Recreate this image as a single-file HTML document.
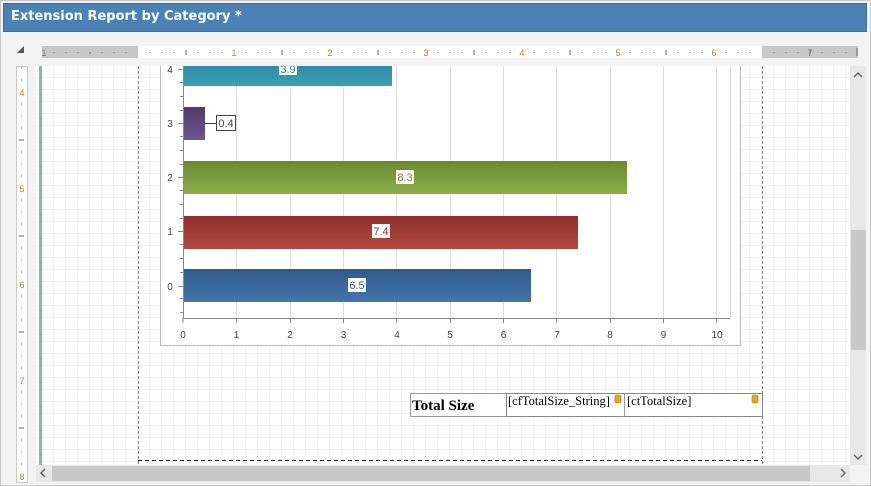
<!DOCTYPE html>
<html><head><style>
body{margin:0;width:871px;height:486px;background:#f0f0f0;position:relative;overflow:hidden;font-family:"Liberation Sans",sans-serif}
.a{position:absolute}
</style></head><body>
<div class="a" style="left:0;top:0;width:869px;height:484px;border:1px solid #c8c8c8;background:#f3f3f3"></div>
<div class="a" style="left:3px;top:3px;width:862px;height:27px;background:#4a82b6;border:1px solid #3a6fa0"></div>
<div class="a" style="left:11px;top:9px;color:#fff;font-weight:bold;font-size:13px;font-family:'DejaVu Sans',sans-serif">Extension Report by Category *</div>
<div class="a" style="left:17px;top:46px;width:0;height:0;border-left:7px solid transparent;border-bottom:7px solid #555"></div>
<svg class="a" style="left:0;top:0" width="871" height="486">
<defs>
<pattern id="g" width="12" height="12" patternUnits="userSpaceOnUse" x="42" y="66"><path d="M12 0V12H0" fill="none" stroke="#e6e6e6" stroke-width="1"/></pattern>
<linearGradient id="b0" x1="0" y1="0" x2="0" y2="1"><stop offset="0" stop-color="#2f5a8a"/><stop offset="1" stop-color="#4575ad"/></linearGradient>
<linearGradient id="b1" x1="0" y1="0" x2="0" y2="1"><stop offset="0" stop-color="#8c302c"/><stop offset="1" stop-color="#b44a42"/></linearGradient>
<linearGradient id="b2" x1="0" y1="0" x2="0" y2="1"><stop offset="0" stop-color="#6a8a2e"/><stop offset="1" stop-color="#8cae4a"/></linearGradient>
<linearGradient id="b3" x1="0" y1="0" x2="0" y2="1"><stop offset="0" stop-color="#4e3a6a"/><stop offset="1" stop-color="#6e5690"/></linearGradient>
<linearGradient id="b4" x1="0" y1="0" x2="0" y2="1"><stop offset="0" stop-color="#2a8098"/><stop offset="1" stop-color="#3aa0b8"/></linearGradient>
<clipPath id="c"><rect x="36" y="66" width="814" height="399"/></clipPath>
</defs>
<!-- horizontal ruler -->
<rect x="42" y="46" width="816" height="12" fill="#fff"/>
<rect x="42" y="46" width="96" height="12" fill="#c8c8c8"/>
<rect x="762" y="46" width="96" height="12" fill="#c8c8c8"/>
<g stroke="#666" stroke-width="1">
<path d="M54 52v1M66 52v1M78 52v1M90 52v2M102 52v1M114 52v1M126 52v1M150 52v1M162 52v1M174 52v1M186 50v5M198 52v1M210 52v1M222 52v1M246 52v1M258 52v1M270 52v1M282 50v5M294 52v1M306 52v1M318 52v1M342 52v1M354 52v1M366 52v1M378 50v5M390 52v1M402 52v1M414 52v1M438 52v1M450 52v1M462 52v1M474 50v5M486 52v1M498 52v1M510 52v1M534 52v1M546 52v1M558 52v1M570 50v5M582 52v1M594 52v1M606 52v1M630 52v1M642 52v1M654 52v1M666 50v5M678 52v1M690 52v1M702 52v1M726 52v1M738 52v1M750 52v1M774 52v1M786 52v1M798 52v1M810 50v5M822 52v1M834 52v1M846 52v1M857 48v8"/>
</g>
<g font-size="9" fill="#777" text-anchor="middle" font-family="Liberation Sans">
<text x="44" y="56">1</text><text x="234" y="56" fill="#c08030">1</text><text x="330" y="56" fill="#c08030">2</text><text x="426" y="56" fill="#c08030">3</text><text x="522" y="56" fill="#c08030">4</text><text x="618" y="56" fill="#c08030">5</text><text x="714" y="56" fill="#c08030">6</text><text x="810" y="56">7</text>
</g>
<!-- vertical ruler -->
<rect x="16.5" y="66.5" width="11" height="416" fill="#fff" stroke="#c8c8c8"/>
<g stroke="#666"><path d="M21 68h1M21 80h1M21 104h1M21 116h1M21 128h1M19 140h5M21 152h1M21 164h1M21 176h1M21 200h1M21 212h1M21 224h1M19 236h5M21 248h1M21 260h1M21 272h1M21 296h1M21 308h1M21 320h1M19 332h5M21 344h1M21 356h1M21 368h1M21 392h1M21 404h1M21 416h1M19 428h5M21 440h1M21 452h1M21 464h1"/></g>
<g font-size="9" fill="#c08030" text-anchor="middle"><text x="22" y="96">4</text><text x="22" y="192">5</text><text x="22" y="288">6</text><text x="22" y="384">7</text><text x="22" y="480">8</text></g>
<!-- canvas -->
<rect x="36" y="66" width="814" height="399" fill="#fff"/>
<rect x="36" y="66" width="814" height="399" fill="url(#g)"/>
<rect x="39" y="66" width="3" height="399" fill="#94aed0"/>
<path d="M138.5 66V465M762.5 66V465" stroke="#888" stroke-dasharray="3,2"/>
<path d="M138 460.5H762" stroke="#222" stroke-dasharray="4,3"/>
<g clip-path="url(#c)">
<rect x="160.5" y="55" width="580" height="290.5" fill="#fff" stroke="#bbb"/>
<g stroke="#ddd"><path d="M236.5 66V318M290.5 66V318M343.5 66V318M396.5 66V318M450.5 66V318M503.5 66V318M556.5 66V318M610.5 66V318M663.5 66V318M716.5 66V318M730.5 66V318"/></g>
<path d="M183.5 60V318.5H730" stroke="#888" fill="none"/>
<g stroke="#888"><path d="M183 318v5M236.5 318v5M290.5 318v5M343.5 318v5M396.5 318v5M450.5 318v5M503.5 318v5M556.5 318v5M610.5 318v5M663.5 318v5M716.5 318v5"/>
<path d="M178 69.5h5M178 123.5h5M178 177.5h5M178 231.5h5M178 286.5h5M180 96.5h3M180 150.5h3M180 204.5h3M180 258.5h3M180 312.5h3M180 82.5h3M180 110.5h3M180 136.5h3M180 164.5h3M180 190.5h3M180 218.5h3M180 244.5h3M180 272.5h3M180 298.5h3"/></g>
<rect x="184" y="55" width="208" height="31" fill="url(#b4)"/>
<rect x="184" y="107" width="21" height="33" fill="url(#b3)"/>
<rect x="184" y="161" width="443" height="33" fill="url(#b2)"/>
<rect x="184" y="216" width="394" height="33" fill="url(#b1)"/>
<rect x="184" y="269" width="347" height="33" fill="url(#b0)"/>
<g font-size="11" text-anchor="middle">
<rect x="279" y="62" width="18" height="13" fill="#fff"/><text x="288" y="73" fill="#2a8098">3.9</text>
<path d="M205 123.5h11" stroke="#4e3a6a"/><rect x="216.5" y="115.5" width="19" height="15" fill="#fff" stroke="#4e3a6a"/><text x="226" y="127" fill="#4e3a6a">0.4</text>
<rect x="396" y="170" width="18" height="14" fill="#fff"/><text x="405" y="181" fill="#6a8a2e">8.3</text>
<rect x="372" y="224" width="18" height="14" fill="#fff"/><text x="381" y="235" fill="#8c302c">7.4</text>
<rect x="348" y="278" width="18" height="14" fill="#fff"/><text x="357" y="289" fill="#2f5a8a">6.5</text>
</g>
<g font-size="10" fill="#444" text-anchor="middle">
<text x="170" y="73">4</text><text x="170" y="127">3</text><text x="170" y="181">2</text><text x="170" y="235">1</text><text x="170" y="290">0</text>
<text x="183" y="338">0</text><text x="236.5" y="338">1</text><text x="290" y="338">2</text><text x="343.5" y="338">3</text><text x="397" y="338">4</text><text x="450" y="338">5</text><text x="503.5" y="338">6</text><text x="557" y="338">7</text><text x="610" y="338">8</text><text x="663.5" y="338">9</text><text x="717" y="338">10</text>
</g>
</g>
<!-- total size table -->
<rect x="410.5" y="393.5" width="96" height="23" fill="#fff" stroke="#999"/>
<rect x="506.5" y="393.5" width="256" height="23" fill="#fff" stroke="#888"/>
<path d="M624.5 394v22" stroke="#999"/>
<text x="412" y="410" font-family="Liberation Serif" font-weight="bold" font-size="15">Total Size</text>
<g font-family="Liberation Serif" font-size="12.5"><text x="508" y="405">[cfTotalSize_String]</text><text x="627" y="405">[ctTotalSize]</text></g>
<rect x="615" y="395" width="6" height="8" rx="2" fill="#e8a818" stroke="#a07010" stroke-width=".6"/>
<rect x="752" y="395" width="6" height="8" rx="2" fill="#e8a818" stroke="#a07010" stroke-width=".6"/>
<!-- scrollbars -->
<rect x="850" y="66" width="16" height="399" fill="#e8e8e8"/>
<rect x="851" y="230" width="15" height="120" fill="#c8c8c8"/>
<path d="M854 77l4-4 4 4M854 455l4 4 4-4" stroke="#666" stroke-width="1.5" fill="none"/>
<rect x="36" y="465" width="814" height="17" fill="#e8e8e8"/>
<rect x="52" y="466" width="758" height="15" fill="#c8c8c8"/>
<path d="M45 469l-4 4 4 4M841 469l4 4-4 4" stroke="#666" stroke-width="1.5" fill="none"/>
</svg>
</body></html>
